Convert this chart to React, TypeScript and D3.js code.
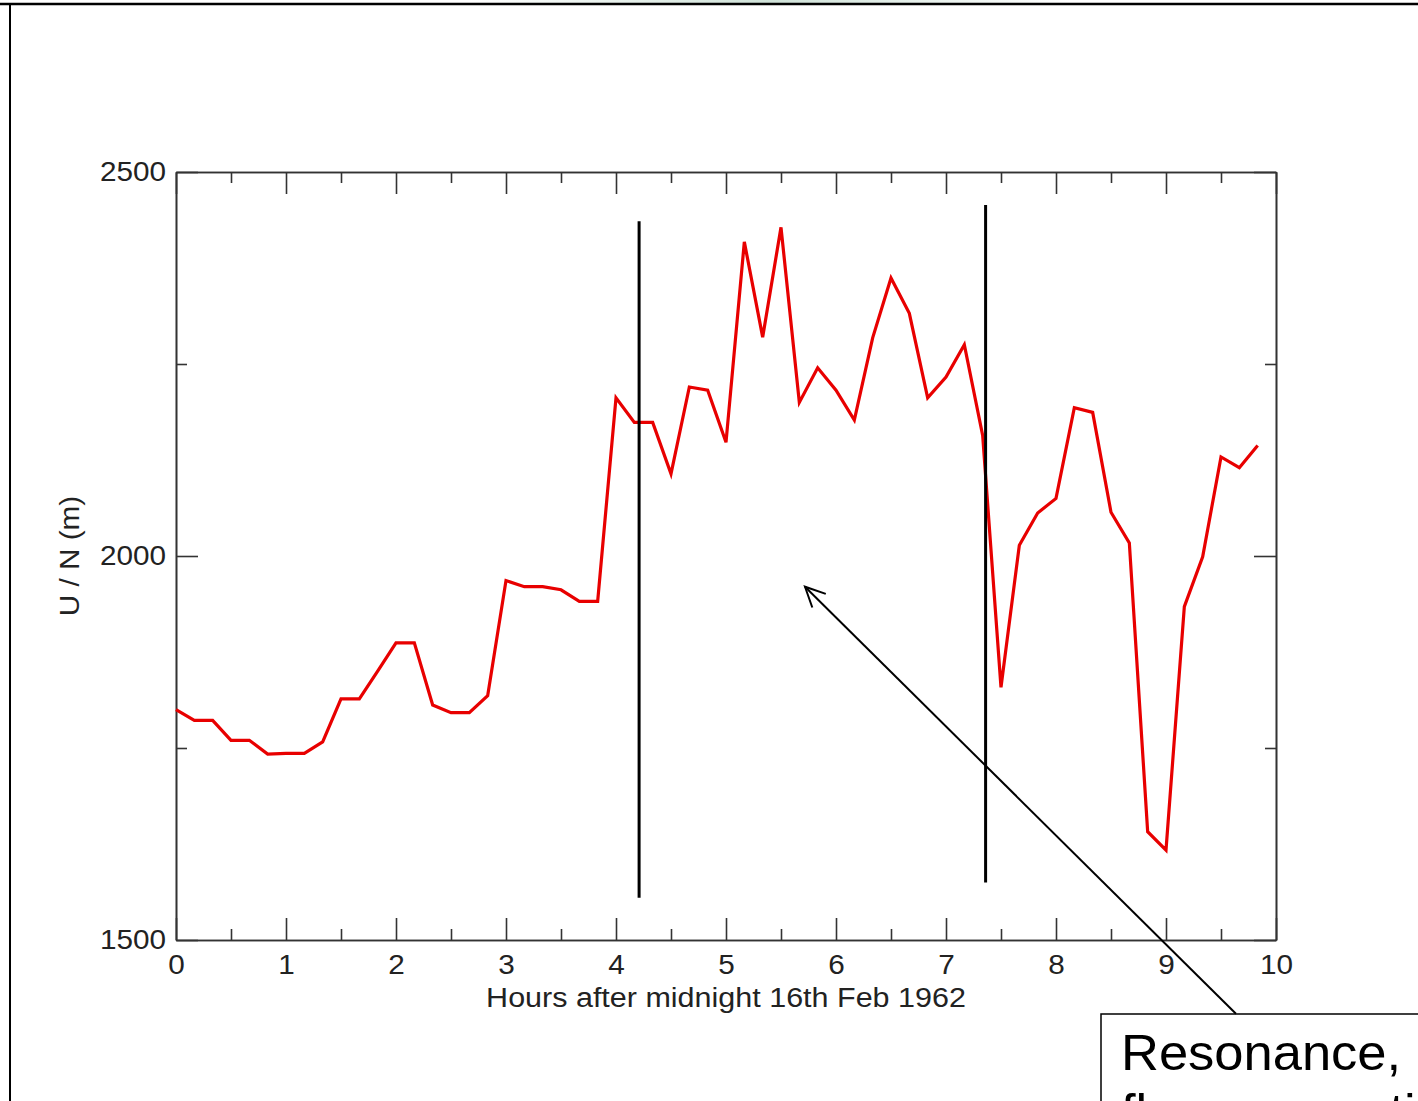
import React, { useEffect, useRef } from "react";
import * as d3 from "d3";

// minutes after midnight, one reading every 10 min
const minutes = [
    0, 10, 20, 30, 40, 50, 60, 70, 80, 90,
    100, 110, 120, 130, 140, 150, 160, 170, 180, 190,
    200, 210, 220, 230, 240, 250, 260, 270, 280, 290,
    300, 310, 320, 330, 340, 350, 360, 370, 380, 390,
    400, 410, 420, 430, 440, 450, 460, 470, 480, 490,
    500, 510, 520, 530, 540, 550, 560, 570, 580, 590
];

// U / N in metres
const unValues = [
    1800, 1786, 1786, 1760, 1760, 1742, 1743, 1743, 1758, 1814,
    1814, 1850, 1887, 1887, 1806, 1796, 1796, 1818, 1968, 1960,
    1960, 1956, 1941, 1941, 2206, 2174, 2174, 2107, 2220, 2216,
    2148, 2409, 2285, 2428, 2200, 2245, 2216, 2177, 2284, 2362,
    2316, 2206, 2233, 2275, 2157, 1829, 2014, 2056, 2075, 2193,
    2187, 2057, 2017, 1641, 1617, 1934, 1999, 2129, 2115, 2144
];

const xMajorTicks = [0, 1, 2, 3, 4, 5, 6, 7, 8, 9, 10];
const xMinorTicks = [0.5, 1.5, 2.5, 3.5, 4.5, 5.5, 6.5, 7.5, 8.5, 9.5];
const yMajorTicks = [1500, 2000, 2500];
const yMinorTicks = [1750, 2250];

// annotation marks, in data units (hours, metres)
const markerHours = [4.21, 7.36];
const markerLow = [1555, 1575];
const markerHigh = [2436, 2457];
const arrowFrom = [9.636, 1404];
const arrowTo = [5.718, 1960];

const calloutLines = ["Resonance,", "flow separation"];

const FONT = "'Liberation Sans', Arial, Helvetica, sans-serif";

export default function App() {
    const svgRef = useRef(null);

    useEffect(() => {
        const svg = d3.select(svgRef.current);
        svg.selectAll("*").remove();

        const left = 176;
        const right = 1276;
        const top = 172;
        const bottom = 940;

        const x = d3.scaleLinear().domain([0, 10]).range([left, right]);
        const y = d3.scaleLinear().domain([1500, 2500]).range([bottom, top]);

        // slide frame
        const defs = svg.append("defs");
        const grad = defs
            .append("linearGradient")
            .attr("id", "topglow")
            .attr("x1", "0")
            .attr("x2", "1");
        grad.append("stop").attr("offset", "0").attr("stop-color", "#ffffff");
        grad.append("stop").attr("offset", "0.5").attr("stop-color", "#cfe2d8");
        grad.append("stop").attr("offset", "1").attr("stop-color", "#ffffff");
        svg.append("rect")
            .attr("x", 470)
            .attr("y", 0)
            .attr("width", 600)
            .attr("height", 4)
            .attr("fill", "url(#topglow)");
        svg.append("line")
            .attr("x1", 0)
            .attr("x2", 1418)
            .attr("y1", 4)
            .attr("y2", 4)
            .attr("stroke", "#000")
            .attr("stroke-width", 2.5);
        svg.append("line")
            .attr("x1", 10)
            .attr("x2", 10)
            .attr("y1", 4)
            .attr("y2", 1101)
            .attr("stroke", "#000")
            .attr("stroke-width", 2);

        const axisColor = "#333";

        const styleAxis = (g) => {
            g.selectAll("path,line")
                .attr("stroke", axisColor)
                .attr("stroke-width", 1.6);
            g.selectAll("text")
                .attr("fill", "#222")
                .style("font-family", FONT)
                .style("font-size", "27px");
        };

        // bottom axis with labels
        const bottomAxis = svg
            .append("g")
            .attr("transform", `translate(0,${bottom})`)
            .call(
                d3
                    .axisBottom(x)
                    .tickValues(xMajorTicks)
                    .tickSizeInner(-22)
                    .tickSizeOuter(0)
                    .tickPadding(15)
                    .tickFormat(d3.format("d"))
            );
        styleAxis(bottomAxis);
        bottomAxis.selectAll("text").attr("transform", "scale(1.1,1)");

        svg.append("g")
            .attr("transform", `translate(0,${bottom})`)
            .call(
                d3
                    .axisBottom(x)
                    .tickValues(xMinorTicks)
                    .tickSizeInner(-11)
                    .tickSizeOuter(0)
                    .tickFormat(() => "")
            )
            .call(styleAxis);

        // top axis, ticks only
        svg.append("g")
            .attr("transform", `translate(0,${top})`)
            .call(
                d3
                    .axisTop(x)
                    .tickValues(xMajorTicks)
                    .tickSizeInner(-22)
                    .tickSizeOuter(0)
                    .tickFormat(() => "")
            )
            .call(styleAxis);
        svg.append("g")
            .attr("transform", `translate(0,${top})`)
            .call(
                d3
                    .axisTop(x)
                    .tickValues(xMinorTicks)
                    .tickSizeInner(-11)
                    .tickSizeOuter(0)
                    .tickFormat(() => "")
            )
            .call(styleAxis);

        // left axis with labels
        const leftAxis = svg
            .append("g")
            .attr("transform", `translate(${left},0)`)
            .call(
                d3
                    .axisLeft(y)
                    .tickValues(yMajorTicks)
                    .tickSizeInner(-22)
                    .tickSizeOuter(0)
                    .tickPadding(9)
                    .tickFormat(d3.format("d"))
            );
        styleAxis(leftAxis);
        leftAxis.selectAll("text").attr("transform", "scale(1.1,1)");

        svg.append("g")
            .attr("transform", `translate(${left},0)`)
            .call(
                d3
                    .axisLeft(y)
                    .tickValues(yMinorTicks)
                    .tickSizeInner(-11)
                    .tickSizeOuter(0)
                    .tickFormat(() => "")
            )
            .call(styleAxis);

        // right axis, ticks only
        svg.append("g")
            .attr("transform", `translate(${right},0)`)
            .call(
                d3
                    .axisRight(y)
                    .tickValues(yMajorTicks)
                    .tickSizeInner(-22)
                    .tickSizeOuter(0)
                    .tickFormat(() => "")
            )
            .call(styleAxis);
        svg.append("g")
            .attr("transform", `translate(${right},0)`)
            .call(
                d3
                    .axisRight(y)
                    .tickValues(yMinorTicks)
                    .tickSizeInner(-11)
                    .tickSizeOuter(0)
                    .tickFormat(() => "")
            )
            .call(styleAxis);

        // axis titles
        svg.append("text")
            .attr("transform", `translate(${(left + right) / 2},1007) scale(1.13,1)`)
            .attr("text-anchor", "middle")
            .attr("fill", "#222")
            .style("font-family", FONT)
            .style("font-size", "27px")
            .text("Hours after midnight 16th Feb 1962");

        svg.append("text")
            .attr("transform", `translate(79,${(top + bottom) / 2}) rotate(-90) scale(1.1,1)`)
            .attr("text-anchor", "middle")
            .attr("fill", "#222")
            .style("font-family", FONT)
            .style("font-size", "27px")
            .text("U / N (m)");

        // data line
        const series = minutes.map((m, i) => ({ h: m / 60, v: unValues[i] }));
        const line = d3
            .line()
            .x((d) => x(d.h))
            .y((d) => y(d.v));

        svg.append("path")
            .datum(series)
            .attr("d", line)
            .attr("fill", "none")
            .attr("stroke", "#e80000")
            .attr("stroke-width", 3.2)
            .attr("stroke-linejoin", "miter");

        // vertical markers
        markerHours.forEach((h, i) => {
            svg.append("line")
                .attr("x1", x(h))
                .attr("x2", x(h))
                .attr("y1", y(markerHigh[i]))
                .attr("y2", y(markerLow[i]))
                .attr("stroke", "#000")
                .attr("stroke-width", 3);
        });

        // callout box
        const box = svg.append("g");
        box.append("rect")
            .attr("x", 1101)
            .attr("y", 1014)
            .attr("width", 400)
            .attr("height", 200)
            .attr("fill", "#fff")
            .attr("stroke", "#000")
            .attr("stroke-width", 1.5);
        calloutLines.forEach((t, i) => {
            box.append("text")
                .attr("transform", `translate(1121,${1070 + i * 59}) scale(1.05,1)`)
                .attr("fill", "#000")
                .style("font-family", FONT)
                .style("font-size", "50px")
                .text(t);
        });

        // arrow to the plot
        const ax0 = x(arrowFrom[0]);
        const ay0 = y(arrowFrom[1]);
        const ax1 = x(arrowTo[0]);
        const ay1 = y(arrowTo[1]);
        svg.append("line")
            .attr("x1", ax0)
            .attr("y1", ay0)
            .attr("x2", ax1)
            .attr("y2", ay1)
            .attr("stroke", "#000")
            .attr("stroke-width", 2);

        const ang = Math.atan2(ay0 - ay1, ax0 - ax1);
        const headLen = 22;
        const spread = 0.45;
        const head = d3.path();
        head.moveTo(ax1 + headLen * Math.cos(ang - spread), ay1 + headLen * Math.sin(ang - spread));
        head.lineTo(ax1, ay1);
        head.lineTo(ax1 + headLen * Math.cos(ang + spread), ay1 + headLen * Math.sin(ang + spread));
        svg.append("path")
            .attr("d", head.toString())
            .attr("fill", "none")
            .attr("stroke", "#000")
            .attr("stroke-width", 2);
    }, []);

    return (
        <svg
            ref={svgRef}
            width={1418}
            height={1101}
            style={{ position: "absolute", left: 0, top: 0, display: "block", background: "#fff" }}
        />
    );
}
